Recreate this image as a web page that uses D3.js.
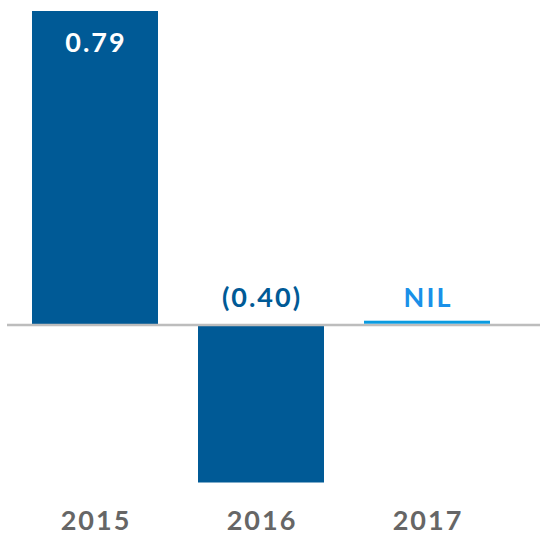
<!DOCTYPE html>
<html>
<head>
<meta charset="utf-8">
<script src="https://cdn.jsdelivr.net/npm/d3@7"></script>
<style>
  body { margin: 0; background: #fff; }
  svg { display: block; }
  text { font-family: Lato, "Open Sans", sans-serif; font-weight: 700; letter-spacing: 2px; }
</style>
</head>
<body>
<svg id="drawing_region"></svg>
<script>
// chart data
const years = ['2015', '2016', '2017'];
const values = [0.79, -0.40, 0];
const labels = ['0.79', '(0.40)', 'NIL'];

const config = {
    width: 540,
    height: 535,
    margin: {top: 11, right: 0, bottom: 52, left: 0}
};

const svg = d3.select('#drawing_region')
    .attr('width', config.width)
    .attr('height', config.height);

// x band scale: bars 126px wide, 166px step, first bar at x=32
const xscale = d3.scaleBand()
    .domain(years)
    .range([32 - 20, 32 - 20 + 166 * 3])
    .paddingInner(40 / 166)
    .paddingOuter(20 / 166);

const yscale = d3.scaleLinear()
    .domain([-0.40, 0.79])
    .range([482.5, config.margin.top]);

const y0 = yscale(0);

// bars
svg.selectAll('rect.bar')
    .data(values.map((v, i) => ({year: years[i], value: v})).filter(d => d.value !== 0))
    .enter()
    .append('rect')
    .attr('class', 'bar')
    .attr('x', d => xscale(d.year))
    .attr('width', xscale.bandwidth())
    .attr('y', d => Math.min(yscale(d.value), y0))
    .attr('height', d => Math.abs(yscale(d.value) - y0))
    .attr('fill', '#005a96');

// zero baseline
svg.append('line')
    .attr('x1', 7).attr('x2', config.width)
    .attr('y1', y0 + 1).attr('y2', y0 + 1)
    .attr('stroke', '#bdbdbd')
    .attr('stroke-width', 2.5);

// NIL marker
svg.append('rect')
    .attr('x', xscale('2017'))
    .attr('width', xscale.bandwidth())
    .attr('y', y0 - 3.3)
    .attr('height', 3)
    .attr('fill', '#0a9be0');

// value labels
svg.selectAll('text.value')
    .data(values.map((v, i) => ({year: years[i], value: v, label: labels[i]})))
    .enter()
    .append('text')
    .attr('class', 'value')
    .attr('x', d => xscale(d.year) + xscale.bandwidth() / 2 + 1)
    .attr('y', d => d.value > 0 ? yscale(d.value) + 41 : y0 - 17)
    .attr('text-anchor', 'middle')
    .attr('font-size', 27)
    .attr('fill', d => d.value > 0 ? '#ffffff' : (d.value < 0 ? '#005a96' : '#1a90e8'))
    .text(d => d.label);

// x axis labels
const xaxis = d3.axisBottom(xscale).tickSize(0).tickPadding(0);
svg.append('g')
    .attr('transform', 'translate(0, 510)')
    .call(xaxis)
    .call(g => g.select('.domain').remove())
    .call(g => g.selectAll('text')
        .attr('font-size', 27)
        .attr('font-family', 'Lato, "Open Sans", sans-serif')
        .attr('font-weight', 700)
        .attr('fill', '#666666')
        .attr('x', 1)
        .attr('dy', '0.73em'));
</script>
</body>
</html>
